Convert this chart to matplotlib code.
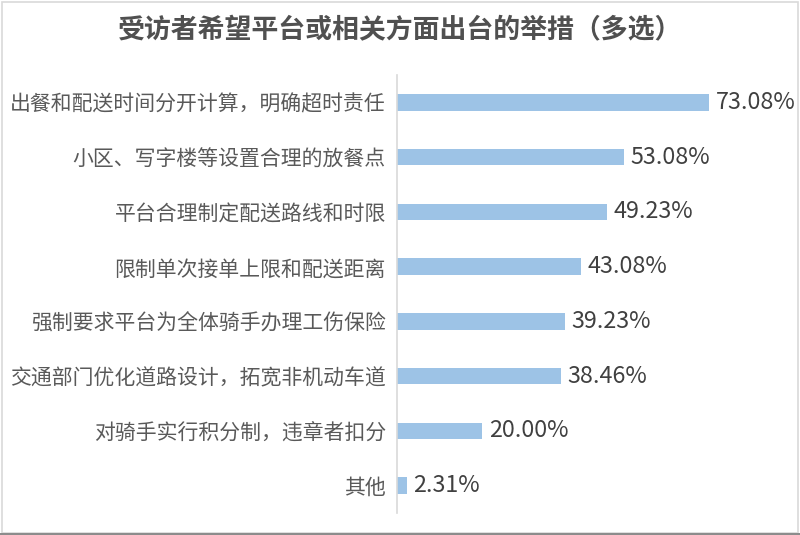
import matplotlib
matplotlib.use("Agg")
import matplotlib.pyplot as plt
from matplotlib.patches import Rectangle

plt.rcParams["font.family"] = ["Noto Sans CJK SC", "DejaVu Sans"]

TITLE = "受访者希望平台或相关方面出台的举措（多选）"
CATEGORIES = [
    "出餐和配送时间分开计算，明确超时责任",
    "小区、写字楼等设置合理的放餐点",
    "平台合理制定配送路线和时限",
    "限制单次接单上限和配送距离",
    "强制要求平台为全体骑手办理工伤保险",
    "交通部门优化道路设计，拓宽非机动车道",
    "对骑手实行积分制，违章者扣分",
    "其他",
]
VALUES = [73.08, 53.08, 49.23, 43.08, 39.23, 38.46, 20.00, 2.31]

BAR_COLOR = "#9dc3e6"
LABEL_COLOR = "#595959"
VALUE_COLOR = "#404040"

fig = plt.figure(figsize=(8.0, 5.35), dpi=100)
ax = fig.add_axes([397 / 800, 1 - 513 / 535, 393 / 800, 438 / 535])

y = list(range(len(CATEGORIES)))
ax.barh(y, VALUES, height=0.3, color=BAR_COLOR)
ax.set_ylim(len(CATEGORIES) - 0.5, -0.5)
ax.set_xlim(0, 393 / 4.27)

for yi, v in zip(y, VALUES):
    ax.text(v + 1.5, yi, f"{v:.2f}%", va="center", ha="left",
            fontsize=16.8, color=VALUE_COLOR)

ax.set_yticks(y)
ax.set_yticklabels(CATEGORIES, fontsize=15, color=LABEL_COLOR)
ax.tick_params(axis="y", length=0, pad=8)
ax.set_xticks([])
for side in ["top", "right", "bottom"]:
    ax.spines[side].set_visible(False)
ax.spines["left"].set_color("#d9d9d9")
ax.spines["left"].set_linewidth(1.2)

fig.text(0.5, 1 - 30 / 535, TITLE, ha="center", va="center",
         fontsize=19.4, fontweight="bold", color="#505050")

# figure frame
fig.patches.append(Rectangle((0.002, 0.004), 0.996, 0.992, transform=fig.transFigure,
                             fill=False, edgecolor="#d9d9d9", linewidth=1.2))
fig.patches.append(Rectangle((0.0, 0.0), 1.0, 0.004, transform=fig.transFigure,
                             facecolor="#8c8c8c", edgecolor="none"))

fig.savefig("out.png", dpi=100, facecolor="white")
